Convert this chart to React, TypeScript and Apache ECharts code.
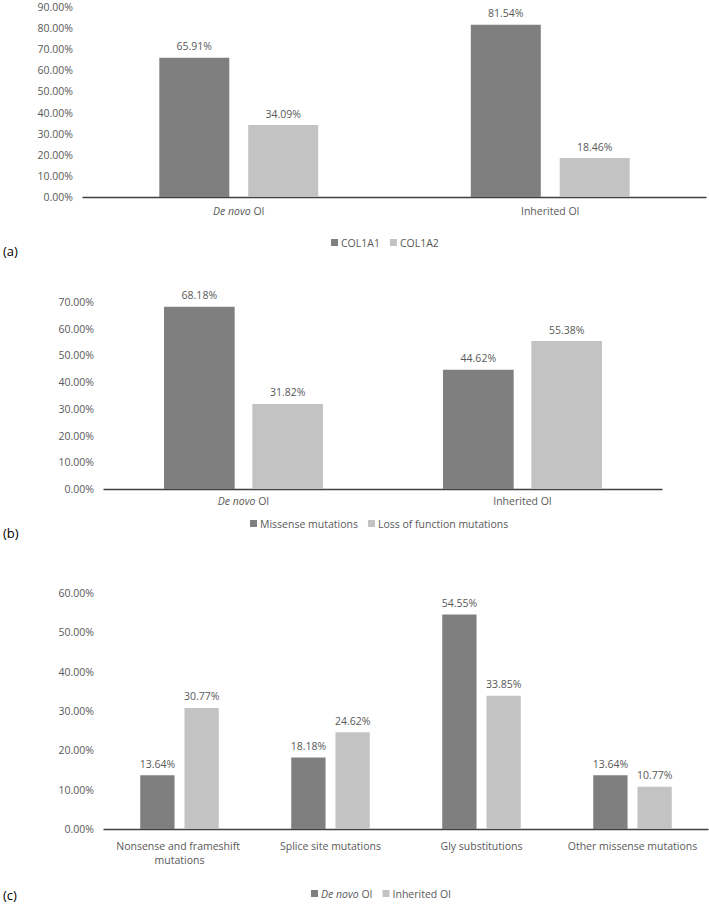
import React, { useEffect, useRef } from "react";
import * as echarts from "echarts";

const catsA = ["De novo OI", "Inherited OI"];
const col1a1 = [65.91, 81.54];
const col1a2 = [34.09, 18.46];

const catsB = ["De novo OI", "Inherited OI"];
const missense = [68.18, 44.62];
const lossOfFunction = [31.82, 55.38];

const catsC = [
  "Nonsense and frameshift mutations",
  "Splice site mutations",
  "Gly substitutions",
  "Other missense mutations",
];
const deNovoC = [13.64, 18.18, 54.55, 13.64];
const inheritedC = [30.77, 24.62, 33.85, 10.77];

const DARK = "#7f7f7f";
const LIGHT = "#c3c3c3";
const TXT = "#595959";
const FONT = "Open Sans";
const FS = 10.5;

const italicCat = (v: string) =>
  v.startsWith("De novo") ? "{i|De novo}" + v.slice(7) : v;

export default function App() {
  const ref = useRef<HTMLDivElement>(null);
  useEffect(() => {
    const chart = echarts.init(ref.current!, undefined, { renderer: "svg" });
    const pct = (v: number) => v.toFixed(2) + "%";
    const rich = { i: { fontStyle: "italic", color: TXT, fontFamily: FONT, fontSize: FS } };
    const xAx = (gi: number, data: string[], extra: any = {}) => ({
      type: "category",
      gridIndex: gi,
      data,
      axisTick: { show: false },
      axisLine: { lineStyle: { color: "#404040", width: 1.3 } },
      axisLabel: {
        color: TXT,
        fontFamily: FONT,
        fontSize: FS,
        margin: 8,
        interval: 0,
        formatter: italicCat,
        rich,
        ...extra,
      },
    });
    const yAx = (gi: number, max: number) => ({
      type: "value",
      gridIndex: gi,
      min: 0,
      max,
      interval: 10,
      axisLine: { show: false },
      axisTick: { show: false },
      splitLine: { show: false },
      axisLabel: {
        color: TXT,
        fontFamily: FONT,
        fontSize: FS,
        margin: 10,
        formatter: (v: number) => pct(v),
      },
    });
    const bar = (name: string, data: number[], gi: number, color: string, cg: string, gap: string) => ({
      type: "bar",
      name,
      data,
      xAxisIndex: gi,
      yAxisIndex: gi,
      itemStyle: { color },
      barCategoryGap: cg,
      barGap: gap,
      label: {
        show: true,
        position: "top",
        distance: 6,
        color: TXT,
        fontFamily: FONT,
        fontSize: FS,
        formatter: (p: any) => pct(p.value),
      },
    });
    const legend = (left: number, top: number, names: string[]) => ({
      left,
      top,
      itemWidth: 7,
      itemHeight: 7,
      itemGap: 10,
      icon: "rect",
      data: names,
      textStyle: { color: TXT, fontFamily: FONT, fontSize: FS, rich, padding: [0, 0, 0, -2] },
      formatter: italicCat,
    });
    const lbl = (text: string, y: number) => ({
      type: "text",
      left: 3,
      top: y,
      style: { text, fill: "#000", font: `13px ${FONT}` },
    });
    chart.setOption({
      animation: false,
      backgroundColor: "#fff",
      grid: [
        { left: 83, right: 3, top: 7, height: 190 },
        { left: 104, right: 47, top: 302, height: 187 },
        { left: 104, right: 1, top: 593, height: 236 },
      ],
      xAxis: [
        xAx(0, catsA),
        xAx(1, catsB, { margin: 6 }),
        xAx(2, catsC, { width: 135, overflow: "break", lineHeight: 14, margin: 10 }),
      ],
      yAxis: [yAx(0, 90), yAx(1, 70), yAx(2, 60)],
      legend: [
        legend(326, 232, ["COL1A1", "COL1A2"]),
        legend(245, 513, ["Missense mutations", "Loss of function mutations"]),
        legend(306, 883, ["De novo OI", "Inherited OI"]),
      ],
      series: [
        bar("COL1A1", col1a1, 0, DARK, "49%", "27%"),
        bar("COL1A2", col1a2, 0, LIGHT, "49%", "27%"),
        bar("Missense mutations", missense, 1, DARK, "43%", "25%"),
        bar("Loss of function mutations", lossOfFunction, 1, LIGHT, "43%", "25%"),
        bar("De novo OI", deNovoC, 2, DARK, "48%", "29%"),
        bar("Inherited OI", inheritedC, 2, LIGHT, "48%", "29%"),
      ],
      graphic: [lbl("(a)", 244), lbl("(b)", 526), lbl("(c)", 888)],
    });
    return () => chart.dispose();
  }, []);
  return (
    <div
      ref={ref}
      style={{ position: "absolute", left: 0, top: 0, width: 709, height: 913 }}
    />
  );
}
